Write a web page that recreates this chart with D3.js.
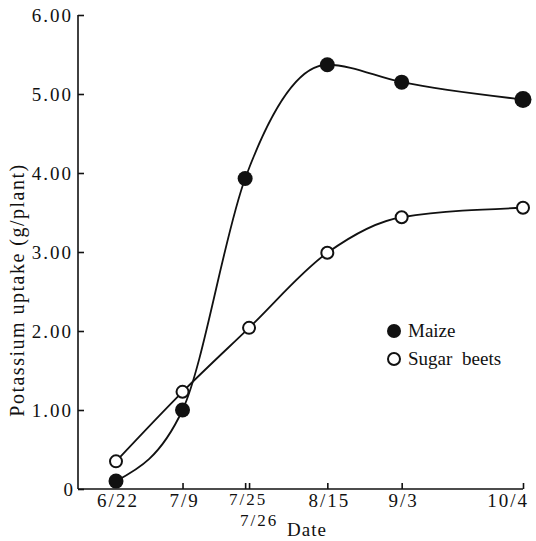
<!DOCTYPE html>
<html>
<head>
<meta charset="utf-8">
<script src="https://cdn.jsdelivr.net/npm/d3@7"></script>
<style>
  body { margin: 0; background: #fff; }
  text { font-family: "Liberation Serif", "DejaVu Serif", serif; fill: #111; }
</style>
</head>
<body>
<svg id="chart" width="536" height="541"></svg>
<script>
// values
var maizeDates = ['2000-06-22', '2000-07-09', '2000-07-25', '2000-08-15', '2000-09-03', '2000-10-04'];
var maizeValues = [0.10, 1.00, 3.93, 5.37, 5.15, 4.93];
var beetDates = ['2000-06-22', '2000-07-09', '2000-07-26', '2000-08-15', '2000-09-03', '2000-10-04'];
var beetValues = [0.35, 1.23, 2.04, 2.99, 3.44, 3.56];
var tickDates = ['2000-06-22', '2000-07-09', '2000-07-25', '2000-07-26', '2000-08-15', '2000-09-03', '2000-10-04'];
var tickLabels = ['6/22', '7/9', '7/25', '7/26', '8/15', '9/3', '10/4'];
var yTicks = [0, 1, 2, 3, 4, 5, 6];

var parse = d3.timeParse('%Y-%m-%d');
var svg = d3.select('#chart');

var x = d3.scaleTime()
  .domain([parse('2000-06-22'), parse('2000-10-04')])
  .range([116, 523]);
var y = d3.scaleLinear().domain([0, 6]).range([489, 15]);
var x0 = 78;

// axes
var yAxis = svg.append('g').attr('transform', 'translate(' + x0 + ',0)')
  .call(d3.axisRight(y).tickValues(yTicks).tickSize(6).tickFormat(''));
yAxis.select('.domain').attr('d', 'M0,' + y(6) + 'V' + y(0));
yAxis.selectAll('line, path').attr('stroke', '#111').attr('stroke-width', 1.6);

yTicks.forEach(function(v) {
  svg.append('text')
    .attr('x', x0 - 5)
    .attr('y', y(v) + 7)
    .attr('text-anchor', 'end')
    .attr('font-size', 19)
    .attr('letter-spacing', v === 0 ? 0 : 2)
    .text(v === 0 ? '0' : d3.format('.2f')(v));
});

var xAxis = svg.append('g').attr('transform', 'translate(0,' + y(0) + ')')
  .call(d3.axisTop(x).tickValues(tickDates.slice(1).map(parse)).tickSize(6).tickFormat(''));
xAxis.select('.domain').attr('d', 'M' + x0 + ',0H' + x(parse('2000-10-04')));
xAxis.selectAll('line, path').attr('stroke', '#111').attr('stroke-width', 1.6);

tickDates.forEach(function(d, i) {
  var lab = tickLabels[i];
  var px = x(parse(d)) + 2;
  if (lab === '7/26') px = x(parse(d)) + 10;
  if (lab === '7/25') px = x(parse(d)) + 3;
  var last = i === tickDates.length - 1;
  var pair = lab === '7/26' || lab === '7/25';
  svg.append('text')
    .attr('x', last ? 529 : px)
    .attr('y', lab === '7/26' ? 526 : (pair ? 505 : 507))
    .attr('text-anchor', last ? 'end' : 'middle')
    .attr('font-size', pair ? 17 : 19)
    .attr('letter-spacing', 2)
    .text(lab);
});

svg.append('text')
  .attr('x', 307).attr('y', 536)
  .attr('text-anchor', 'middle')
  .attr('font-size', 19)
  .attr('letter-spacing', 1)
  .text('Date');

svg.append('text')
  .attr('transform', 'translate(24,290) rotate(-90)')
  .attr('text-anchor', 'middle')
  .attr('font-size', 20)
  .attr('letter-spacing', 1.5)
  .text('Potassium uptake (g/plant)');

// series
var maize = maizeDates.map(function(d, i) { return {date: parse(d), value: maizeValues[i]}; });
var beets = beetDates.map(function(d, i) { return {date: parse(d), value: beetValues[i]}; });

var line = d3.line()
  .x(function(d) { return x(d.date); })
  .y(function(d) { return y(d.value); })
  .curve(d3.curveMonotoneX);

svg.append('path').attr('d', line(beets))
  .attr('fill', 'none').attr('stroke', '#111').attr('stroke-width', 1.8);
svg.append('path').attr('d', line(maize))
  .attr('fill', 'none').attr('stroke', '#111').attr('stroke-width', 1.8);

svg.selectAll('.beet').data(beets).enter().append('circle')
  .attr('cx', function(d) { return x(d.date); })
  .attr('cy', function(d) { return y(d.value); })
  .attr('r', 6)
  .attr('fill', '#fff').attr('stroke', '#111').attr('stroke-width', 2);

svg.selectAll('.maize').data(maize).enter().append('circle')
  .attr('cx', function(d) { return x(d.date); })
  .attr('cy', function(d) { return y(d.value); })
  .attr('r', function(d, i) { return i === maize.length - 1 ? 8.5 : 7.5; })
  .attr('fill', '#111');

// legend
var legend = svg.append('g').attr('transform', 'translate(394,331)');
legend.append('circle').attr('r', 7).attr('fill', '#111');
legend.append('text').attr('x', 14).attr('y', 6).attr('font-size', 19).text('Maize');
legend.append('circle').attr('cy', 28).attr('r', 6)
  .attr('fill', '#fff').attr('stroke', '#111').attr('stroke-width', 2);
legend.append('text').attr('x', 14).attr('y', 34).attr('font-size', 19)
  .attr('word-spacing', 5).text('Sugar beets');
</script>
</body>
</html>
